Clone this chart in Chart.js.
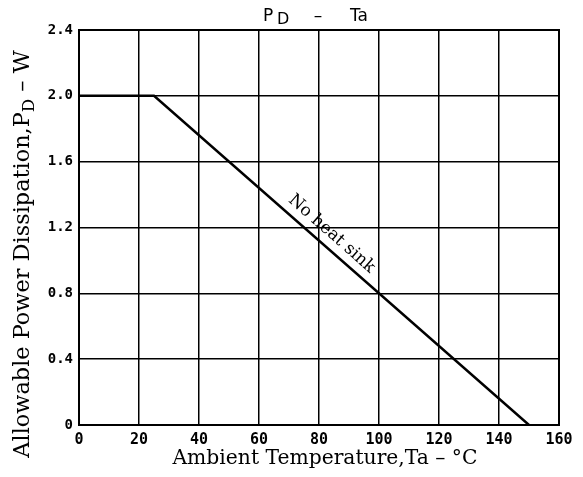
<!DOCTYPE html>
<html><head><meta charset="utf-8">
<script src="https://cdn.jsdelivr.net/npm/chart.js@4"></script>
<style>body{margin:0;background:#fff}canvas{display:block}</style>
</head><body>
<canvas id="c" width="583" height="477"></canvas>
<script>
const tempPoints = [0, 25, 150];
const powerPoints = [2.0, 2.0, 0];
const xTicks = [0, 20, 40, 60, 80, 100, 120, 140, 160];
const yTicks = [0, 0.4, 0.8, 1.2, 1.6, 2.0, 2.4];
const curveLabel = "No heat sink";
const chartTitle = ["P", "D", "–", "Ta"];
const xTitle = "Ambient Temperature,Ta – °C";
const yTitle = ["Allowable Power Dissipation,P", "D", " – W"];

const PLOT = {left: 79, right: 559, top: 30, bottom: 425};

function subWidths(ctx, parts, font, subFont) {
  ctx.font = font; const w0 = ctx.measureText(parts[0]).width;
  ctx.font = subFont; const w1 = ctx.measureText(parts[1]).width;
  ctx.font = font; const w2 = ctx.measureText(parts[2]).width;
  return [w0, w1, w2];
}
function drawSub(ctx, parts, x, y, font, subFont, subDy) {
  const [w0, w1, w2] = subWidths(ctx, parts, font, subFont);
  const sx = x - (w0 + w1 + w2) / 2;
  ctx.textAlign = 'left'; ctx.textBaseline = 'alphabetic';
  ctx.font = font; ctx.fillText(parts[0], sx, y);
  ctx.font = subFont; ctx.fillText(parts[1], sx + w0, y + subDy);
  ctx.font = font; ctx.fillText(parts[2], sx + w0 + w1, y);
}

const textPlugin = {
  id: 'texts',
  afterDraw(chart) {
    const ctx = chart.ctx;
    const xs = chart.scales.x, ys = chart.scales.y;
    ctx.save();
    ctx.fillStyle = '#000';
    // title
    ctx.textBaseline = 'alphabetic'; ctx.textAlign = 'left';
    ctx.font = '17px "DejaVu Sans"';
    ctx.fillText(chartTitle[0], 263, 21);
    ctx.font = '16px "DejaVu Sans"';
    ctx.fillText(chartTitle[1], 277, 24);
    ctx.font = '17px "DejaVu Sans"';
    ctx.textAlign = 'center';
    ctx.fillText(chartTitle[2], 318, 21);
    ctx.textAlign = 'left';
    ctx.fillText(chartTitle[3], 350, 21);
    // x title (fit to width)
    ctx.font = '20px "DejaVu Serif"';
    let w = ctx.measureText(xTitle).width;
    let fs = 20 * 306 / w;
    ctx.font = fs.toFixed(1) + 'px "DejaVu Serif"';
    ctx.textAlign = 'center'; ctx.textBaseline = 'middle';
    ctx.fillText(xTitle, 325, 459);
    // y title
    const ws = subWidths(ctx, yTitle, '20px "DejaVu Serif"', '15px "DejaVu Serif"');
    const fy = 20 * 408 / (ws[0] + ws[1] + ws[2]);
    ctx.save();
    ctx.translate(22, 254);
    ctx.rotate(-Math.PI / 2);
    drawSub(ctx, yTitle, 0, 7, fy.toFixed(1) + 'px "DejaVu Serif"', (fy * 0.75).toFixed(1) + 'px "DejaVu Serif"', 5);
    ctx.restore();
    // curve label
    const x1 = xs.getPixelForValue(tempPoints[1]), y1 = ys.getPixelForValue(powerPoints[1]);
    const x2 = xs.getPixelForValue(tempPoints[2]), y2 = ys.getPixelForValue(powerPoints[2]);
    const ang = Math.atan2(y2 - y1, x2 - x1);
    const t = 0.45;
    const cx = x1 + (x2 - x1) * t, cy = y1 + (y2 - y1) * t;
    ctx.translate(cx, cy);
    ctx.rotate(ang);
    ctx.font = '17px "DejaVu Serif"';
    ctx.textAlign = 'center'; ctx.textBaseline = 'bottom';
    ctx.fillText(curveLabel, 0, -5);
    ctx.restore();
  }
};

new Chart(document.getElementById('c'), {
  type: 'scatter',
  data: {
    datasets: [{
      data: tempPoints.map((t, i) => ({x: t, y: powerPoints[i]})),
      showLine: true,
      borderColor: '#000',
      borderWidth: 2.5,
      pointRadius: 0,
      tension: 0
    }]
  },
  options: {
    responsive: false,
    animation: false,
    layout: {padding: {left: 0, right: 583 - PLOT.right, top: PLOT.top, bottom: 0}},
    plugins: {legend: {display: false}, tooltip: {enabled: false}, title: {display: false}},
    scales: {
      x: {
        type: 'linear', min: 0, max: 160,
        afterBuildTicks: s => { s.ticks = xTicks.map(v => ({value: v})); },
        afterFit: s => { s.height = 477 - PLOT.bottom; },
        grid: {color: '#000', lineWidth: 1.5, drawTicks: false},
        border: {color: '#000', width: 2},
        ticks: {color: '#000', padding: 6, font: {family: '"DejaVu Sans Mono"', weight: 'bold', size: 15},
                maxRotation: 0, callback: v => String(v)}
      },
      y: {
        type: 'linear', min: 0, max: 2.4,
        afterBuildTicks: s => { s.ticks = yTicks.map(v => ({value: v})); },
        afterFit: s => { s.width = PLOT.left; },
        grid: {color: '#000', lineWidth: 1.5, drawTicks: false},
        border: {color: '#000', width: 2},
        ticks: {color: '#000', padding: 6, font: {family: '"DejaVu Sans Mono"', weight: 'bold', size: 14},
                callback: v => v === 0 ? '0' : v.toFixed(1)}
      }
    }
  },
  plugins: [textPlugin, {
    id: 'frame',
    afterDraw(chart) {
      const a = chart.chartArea, ctx = chart.ctx;
      ctx.save(); ctx.strokeStyle = '#000'; ctx.lineWidth = 2;
      ctx.strokeRect(a.left, a.top, a.right - a.left, a.bottom - a.top);
      ctx.restore();
    }
  }]
});
</script>
</body></html>
